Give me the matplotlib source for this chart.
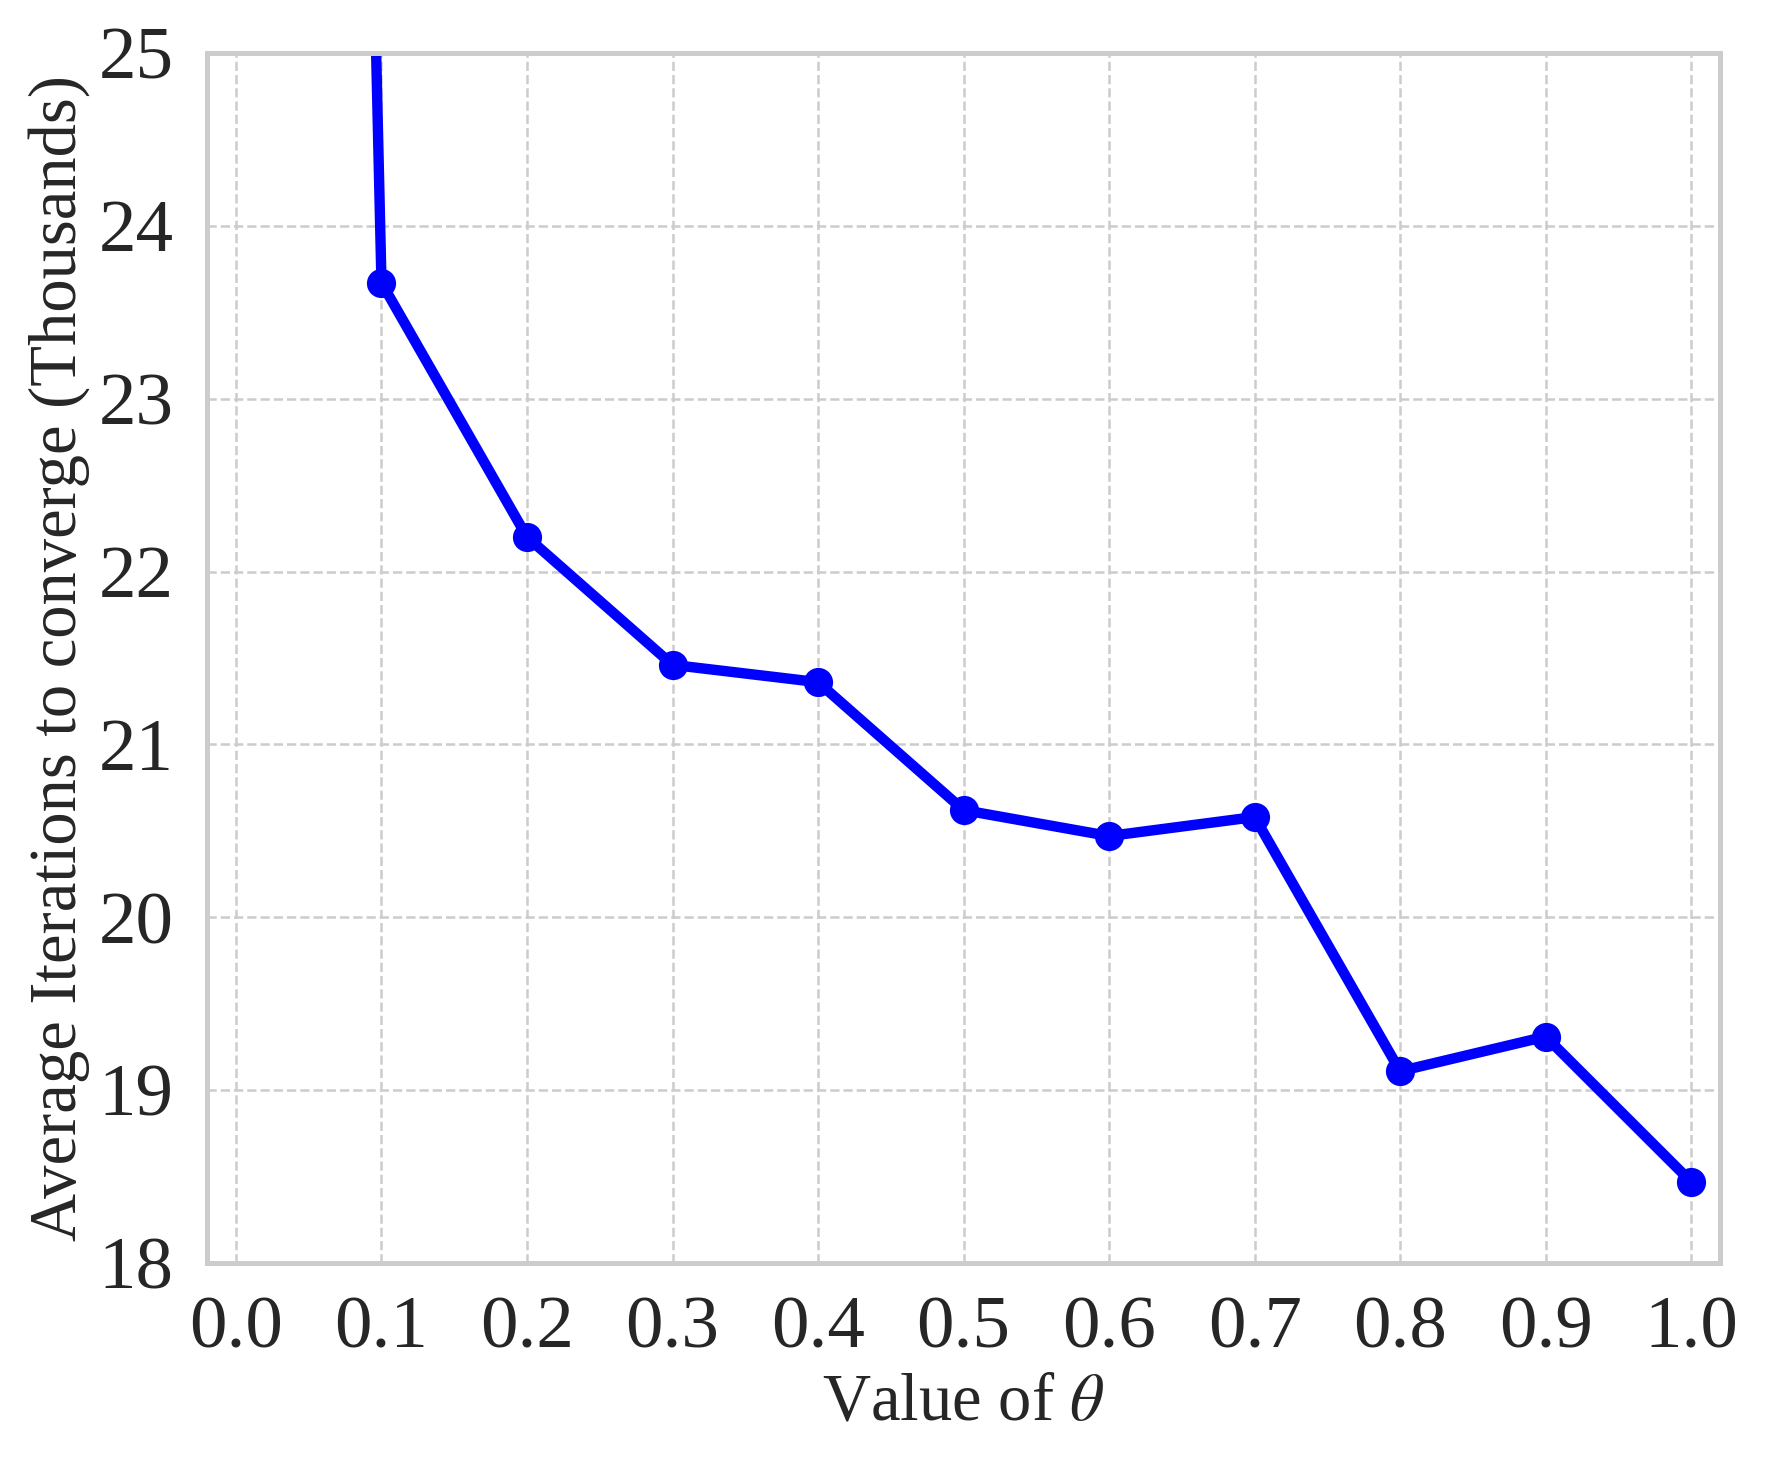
import numpy as np
import matplotlib
matplotlib.use("Agg")
import matplotlib.pyplot as plt
import seaborn as sns

# theta values and average iterations (thousands)
theta = [0.0, 0.1, 0.2, 0.3, 0.4, 0.5, 0.6, 0.7, 0.8, 0.9, 1.0]
iterations = [60.0, 23.67, 22.20, 21.46, 21.36, 20.62, 20.47, 20.58, 19.11, 19.31, 18.47]
x_ticks = [0.0, 0.1, 0.2, 0.3, 0.4, 0.5, 0.6, 0.7, 0.8, 0.9, 1.0]
y_ticks = [18, 19, 20, 21, 22, 23, 24, 25]

sns.set_theme(style="whitegrid")
plt.rcParams['font.family'] = ['Liberation Serif', 'DejaVu Serif']
plt.rcParams['mathtext.fontset'] = 'stix'

fig, ax = plt.subplots(figsize=(1768 / 300, 1467 / 300), dpi=300)
fig.subplots_adjust(left=0.117, right=0.973, top=0.964, bottom=0.139)

ax.plot(theta, iterations, color='blue', marker='o', linewidth=2.5, markersize=6)

ax.set_xlim(-0.02, 1.02)
ax.set_ylim(18, 25)
ax.set_xticks(x_ticks)
ax.set_xticklabels([f'{t:.1f}' for t in x_ticks])
ax.set_yticks(y_ticks)
ax.tick_params(axis='both', labelsize=18, colors='#262626', pad=2)
ax.grid(True, linestyle='--', linewidth=0.6, color='#cccccc')

ax.set_xlabel(r'Value of $\theta$', fontsize=16, color='#262626', labelpad=2)
ax.set_ylabel('Average Iterations to converge (Thousands)', fontsize=16, color='#262626', labelpad=2)

for s in ax.spines.values():
    s.set_color('#cccccc')
    s.set_linewidth(1.2)

fig.savefig('out.png', dpi=300)
